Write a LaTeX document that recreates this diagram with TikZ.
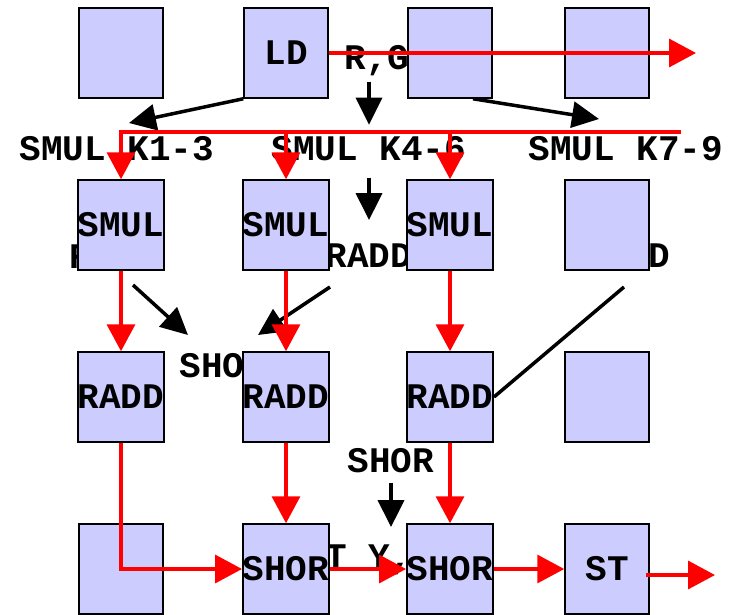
\documentclass[tikz,border=0pt]{standalone}
\usepackage{fontspec}
\setmonofont{Liberation Mono}
\usetikzlibrary{arrows.meta}
\definecolor{cellfill}{RGB}{204,204,255}
\begin{document}
\begin{tikzpicture}[x=1pt, y=-1pt,
    every node/.style={font=\fontsize{36}{40}\selectfont\ttfamily\bfseries, inner sep=0pt},
    cell/.style={draw, fill=cellfill, line width=1.5pt, minimum width=84pt, minimum height=90pt},
    lbl/.style={anchor=base},
    blk/.style={-{Triangle[length=27pt,width=26pt]}, line width=3.5pt},
    rd/.style={-{Triangle[length=27pt,width=28pt]}, line width=3.5pt, red}]
    \useasboundingbox (0,0) rectangle (733,615);
    \node[lbl] (rg) at (377,70) {R,G};
    \node[lbl] (ka) at (117,160) {SMUL K1-3};
    \node[lbl] (kb) at (369,160) {SMUL K4-6};
    \node[lbl] (kc) at (626,160) {SMUL K7-9};
    \node[lbl] (raddla) at (113,268) {RADD};
    \node[lbl] (raddlb) at (369,267) {RADD};
    \node[lbl] (raddlc) at (627,267) {RADD};
    \node[lbl] (shorla) at (223,377) {SHOR};
    \node[lbl] (shorlb) at (391,472) {SHOR};
    \node[lbl] (outl) at (369,568) {T Y,};
    \node[cell] (c11) at (121,53) {};
    \node[cell] (ld) at (286,53) {LD};
    \node[cell] (c13) at (450,53) {};
    \node[cell] (c14) at (607,53) {};
    \node[cell] (smula) at (121,225) {SMUL};
    \node[cell] (smulb) at (286,225) {SMUL};
    \node[cell] (smulc) at (450,225) {SMUL};
    \node[cell] (c24) at (607,225) {};
    \node[cell] (radda) at (121,397) {RADD};
    \node[cell] (raddb) at (286,397) {RADD};
    \node[cell] (raddc) at (450,397) {RADD};
    \node[cell] (c34) at (607,397) {};
    \node[cell] (c41) at (121,569) {};
    \node[cell] (shora) at (286,569) {SHOR};
    \node[cell] (shorb) at (450,569) {SHOR};
    \node[cell] (st) at (607,569) {ST};
    \coordinate (katip) at (129,123);
    \coordinate (kctip) at (599,119);
    \coordinate (sa) at (133,285);
    \coordinate (satip) at (188,335);
    \coordinate (sb) at (330,287);
    \coordinate (sbtip) at (258,335);
    \coordinate (tailc) at (624,287);
    \draw[blk] (ld.south west) -- (katip);
    \draw[blk] (c13.south -| 473,0) -- (kctip);
    \draw[blk, shorten <=5pt, shorten >=11pt] (rg.south -| kb.north) -- (kb.north);
    \draw[blk, shorten <=17pt, shorten >=23pt] (kb.south) -- (raddlb.north);
    \draw[blk] (sa) -- (satip);
    \draw[blk] (sb) -- (sbtip);
    \draw[line width=3.5pt] (tailc) -- (raddc.east);
    \draw[blk, shorten <=10pt, shorten >=17pt] (shorlb.south) -- (shorlb.south |- outl.north);
    \coordinate (outr) at (696,53);
    \coordinate (busr) at (681,132);
    \coordinate (stout) at (715,575);
    \draw[rd] (ld.east) -- (outr);
    \draw[rd] (busr) -| (smula.north);
    \draw[rd] (smulb.north |- busr) -- (smulb.north);
    \draw[rd] (smulc.north |- busr) -- (smulc.north);
    \draw[rd] (smula.south) -- (radda.north);
    \draw[rd] (smulb.south) -- (raddb.north);
    \draw[rd] (smulc.south) -- (raddc.north);
    \draw[rd] (radda.south) |- (shora.west);
    \draw[rd] (raddb.south) -- (shora.north);
    \draw[rd] (raddc.south) -- (shorb.north);
    \draw[rd] (shora.east) -- (shorb.west);
    \draw[rd] (shorb.east) -- (st.west);
    \draw[rd] ([xshift=-4pt]st.east |- stout) -- (stout);
\end{tikzpicture}
\end{document}
